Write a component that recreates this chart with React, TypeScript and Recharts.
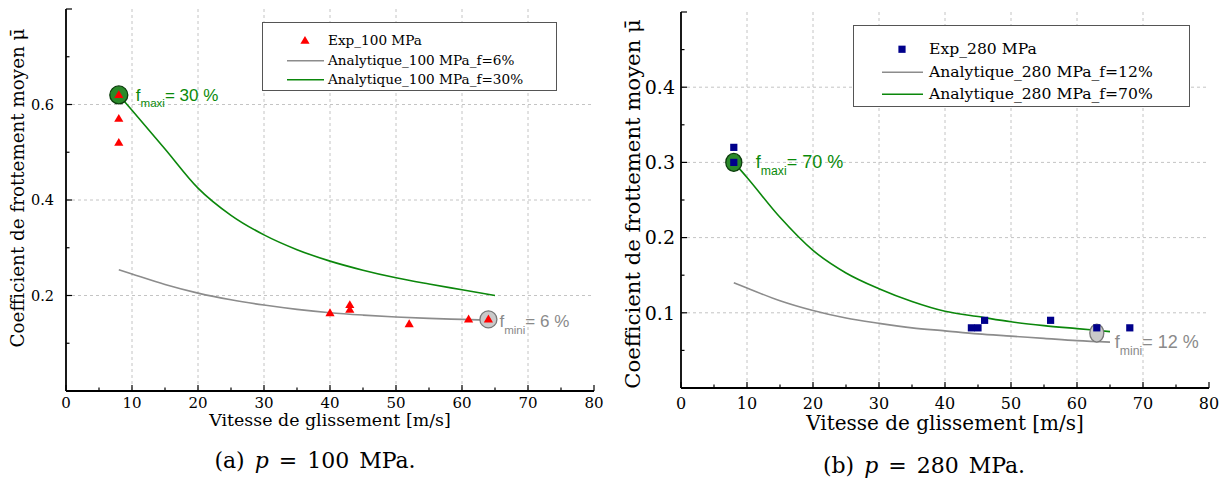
import React from "react";
import {
  ComposedChart,
  Line,
  Scatter,
  XAxis,
  YAxis,
  CartesianGrid,
  Legend,
} from "recharts";

const SERIF = '"DejaVu Serif", "Liberation Serif", "Noto Serif", "Times New Roman", Times, serif';
const SANS = '"Liberation Sans", Arial, Helvetica, sans-serif';

// ---------- shared x axis ----------
const xTicks = [0, 5, 10, 15, 20, 25, 30, 35, 40, 45, 50, 55, 60, 65, 70, 75, 80];
const xMajor = [0, 10, 20, 30, 40, 50, 60, 70, 80];
const xLabels = [0, 10, 20, 30, 40, 50, 60, 70, 80];
const xGrid = [10, 20, 30, 40, 50, 60, 70];
const curveSpeeds = [8, 10, 15, 20, 25, 30, 35, 40, 45, 50, 55, 60, 65];

// ---------- (a) p = 100 MPa ----------
const yTicksA = [0, 0.1, 0.2, 0.3, 0.4, 0.5, 0.6, 0.7, 0.8];
const yMajorA = [0, 0.2, 0.4, 0.6, 0.8];
const yLabelsA = [0.2, 0.4, 0.6];
const yGridA = [0.2, 0.4, 0.6];
const expSpeedA = [8, 8, 8, 40, 43, 43, 52, 61, 64];
const expMuA = [0.62, 0.57, 0.52, 0.163, 0.18, 0.17, 0.14, 0.15, 0.15];
const anaMuA6 = [0.254, 0.245, 0.223, 0.205, 0.191, 0.18, 0.171, 0.164, 0.159, 0.155, 0.152, 0.15, 0.148];
const anaMuA30 = [0.62, 0.588, 0.507, 0.425, 0.368, 0.327, 0.296, 0.272, 0.253, 0.237, 0.224, 0.212, 0.2];
const namesA = ["Exp_100 MPa", "Analytique_100 MPa_f=6%", "Analytique_100 MPa_f=30%"];
const maxiA = { x: 8, y: 0.62, text: "= 30 %" };
const miniA = { x: 64, y: 0.15, text: "= 6 %" };
const captionA = { tag: "(a)", pressure: "100" };

// ---------- (b) p = 280 MPa ----------
const yTicksB = [0, 0.05, 0.1, 0.15, 0.2, 0.25, 0.3, 0.35, 0.4, 0.45, 0.5];
const yMajorB = [0, 0.1, 0.2, 0.3, 0.4, 0.5];
const yLabelsB = [0.1, 0.2, 0.3, 0.4];
const yGridB = [0.1, 0.2, 0.3, 0.4];
const expSpeedB = [8, 8, 44, 45, 46, 56, 63, 68];
const expMuB = [0.32, 0.3, 0.08, 0.08, 0.09, 0.09, 0.08, 0.08];
const anaMuB12 = [0.14, 0.133, 0.116, 0.103, 0.093, 0.086, 0.08, 0.076, 0.072, 0.069, 0.066, 0.063, 0.061];
const anaMuB70 = [0.3, 0.28, 0.227, 0.183, 0.153, 0.132, 0.115, 0.102, 0.095, 0.088, 0.083, 0.079, 0.075];
const namesB = ["Exp_280 MPa", "Analytique_280 MPa_f=12%", "Analytique_280 MPa_f=70%"];
const maxiB = { x: 8, y: 0.3, text: "= 70 %" };
const miniB = { x: 63, y: 0.073, text: "= 12 %" };
const captionB = { tag: "(b)", pressure: "280" };

const xTitle = "Vitesse de glissement [m/s]";
const yTitle = "Coefficient de frottement moyen \u03bc\u0304";

const GREEN_TXT = "#0a8a0a";
const GRAY_TXT = "#8a8a8a";
const LINE_GRAY = "#8c8c8c";
const LINE_GREEN = "#0b870b";
const RED = "#ff0000";
const NAVY = "#00008b";

const pts = (xs: number[], ys: number[]) => xs.map((x, i) => ({ x, y: ys[i] }));
const has = (arr: number[], v: number) => arr.some((a) => Math.abs(a - v) < 1e-9);

// ---------- tick renderers (inward ticks) ----------
function xTick(side: "bottom" | "top", fontSize: number, labelDy: number) {
  return (props: any) => {
    const { x, y, payload } = props;
    const v = Number(payload.value);
    const len = has(xMajor, v) ? 6 : 3.5;
    const dir = side === "bottom" ? -1 : 1;
    return (
      <g>
        <line x1={x} y1={y} x2={x} y2={y + dir * len} stroke="#000" strokeWidth={1.2} />
        {side === "bottom" && has(xLabels, v) ? (
          <text x={x} y={y + labelDy} textAnchor="middle" fontFamily={SERIF} fontSize={fontSize} fill="#000">
            {v}
          </text>
        ) : null}
      </g>
    );
  };
}

function yTick(side: "left" | "right", majors: number[], labels: number[], fontSize: number, gap: number) {
  return (props: any) => {
    const { x, y, payload } = props;
    const v = Number(payload.value);
    const len = has(majors, v) ? 6 : 3.5;
    const dir = side === "left" ? 1 : -1;
    return (
      <g>
        <line x1={x} y1={y} x2={x + dir * len} y2={y} stroke="#000" strokeWidth={1.2} />
        {side === "left" && has(labels, v) ? (
          <text x={x - gap} y={y} dy={fontSize * 0.36} textAnchor="end" fontFamily={SERIF} fontSize={fontSize} fill="#000">
            {v}
          </text>
        ) : null}
      </g>
    );
  };
}

// ---------- marker shapes ----------
const Triangle = (props: any) => {
  const { cx, cy } = props;
  if (cx == null || cy == null) return <g />;
  return <polygon points={`${cx},${cy - 4.8} ${cx - 4.6},${cy + 3} ${cx + 4.6},${cy + 3}`} fill={RED} />;
};
const Square = (props: any) => {
  const { cx, cy } = props;
  if (cx == null || cy == null) return <g />;
  return <rect x={cx - 3.6} y={cy - 3.6} width={7.2} height={7.2} fill={NAVY} />;
};

type AnnOpts = {
  rx: number;
  ry: number;
  fill: string;
  stroke: string;
  color: string;
  sub: string;
  text: string;
  fs: number;
  dx: number;
  dy: number;
};
function annotation(o: AnnOpts) {
  return (props: any) => {
    const { cx, cy } = props;
    if (cx == null || cy == null) return <g />;
    const subFs = o.fs * 0.68;
    return (
      <g>
        <ellipse cx={cx} cy={cy} rx={o.rx} ry={o.ry} fill={o.fill} stroke={o.stroke} strokeWidth={1.3} />
        <text x={cx + o.dx} y={cy + o.dy} fill={o.color} fontFamily={SANS} fontSize={o.fs}>
          f
          <tspan fontSize={subFs} dy={o.fs * 0.38}>
            {o.sub}
          </tspan>
          <tspan dy={-o.fs * 0.38}>{o.text}</tspan>
        </text>
      </g>
    );
  };
}

// ---------- legend ----------
type LegendOpts = {
  names: string[];
  kinds: ("triangle" | "square" | "line")[];
  colors: string[];
  width: number;
  height: number;
  fontSize: number;
  rowH: number;
  padTop: number;
  markerW: number;
  markerC: number;
  lineFrom: number;
  lineTo: number;
};
function legendContent(o: LegendOpts) {
  return () => (
    <div
      style={{
        boxSizing: "border-box",
        width: o.width,
        height: o.height,
        border: "1px solid #555",
        background: "#fff",
        paddingTop: o.padTop,
        fontFamily: SERIF,
        fontSize: o.fontSize,
        whiteSpace: "nowrap",
        color: "#000",
      }}
    >
      {o.names.map((n, i) => (
        <div key={n} style={{ display: "flex", alignItems: "center", height: o.rowH }}>
          <svg width={o.markerW} height={o.rowH} style={{ flex: "none" }}>
            {o.kinds[i] === "line" ? (
              <line x1={o.lineFrom} x2={o.lineTo} y1={o.rowH / 2} y2={o.rowH / 2} stroke={o.colors[i]} strokeWidth={1.5} />
            ) : o.kinds[i] === "triangle" ? (
              <Triangle cx={o.markerC} cy={o.rowH / 2} />
            ) : (
              <Square cx={o.markerC} cy={o.rowH / 2} />
            )}
          </svg>
          <span style={{ lineHeight: `${o.rowH}px` }}>{n}</span>
        </div>
      ))}
    </div>
  );
}

// ---------- axis titles & caption ----------
function xTitleLabel(
  fs: number,
  dy: number,
  cap: { tag: string; pressure: string },
  capFs: number,
  capDx: number,
  capDy: number
) {
  return (props: any) => {
    const vb = props.viewBox || {};
    const cx = vb.x + vb.width / 2;
    return (
      <g>
        <text x={cx} y={vb.y + dy} textAnchor="middle" fontFamily={SERIF} fontSize={fs} fill="#000">
          {xTitle}
        </text>
        <text
          x={cx + capDx}
          y={vb.y + capDy}
          textAnchor="middle"
          fontFamily={SERIF}
          fontSize={capFs}
          wordSpacing={3}
          fill="#000"
        >
          {cap.tag + " "}
          <tspan fontStyle="italic">p</tspan>
          {" = " + cap.pressure + " MPa."}
        </text>
      </g>
    );
  };
}
function yTitleLabel(fs: number, cxAbs: number, cyShift: number) {
  return (props: any) => {
    const vb = props.viewBox || {};
    const cy = vb.y + vb.height / 2 + cyShift;
    return (
      <text
        x={cxAbs}
        y={cy}
        transform={`rotate(-90 ${cxAbs} ${cy})`}
        textAnchor="middle"
        dominantBaseline="central"
        fontFamily={SERIF}
        fontSize={fs}
        fill="#000"
      >
        {yTitle}
      </text>
    );
  };
}

type PanelProps = {
  left: number;
  width: number;
  margin: { top: number; right: number; bottom: number; left: number };
  yAxisW: number;
  yDomain: [number, number];
  yTicks: number[];
  yMajor: number[];
  yLabels: number[];
  yGrid: number[];
  exp: { x: number; y: number }[];
  low: { x: number; y: number }[];
  high: { x: number; y: number }[];
  names: string[];
  expShape: any;
  expKind: "triangle" | "square";
  maxi: { x: number; y: number; text: string };
  mini: { x: number; y: number; text: string };
  maxiShape: any;
  miniShape: any;
  xTickFs: number;
  xTickDy: number;
  yTickFs: number;
  yTickGap: number;
  xLabel: any;
  yLabel: any;
  legend: LegendOpts;
  legendPos: { left: number; top: number };
};

function Panel(p: PanelProps) {
  return (
    <div style={{ position: "absolute", left: p.left, top: 0 }}>
      <ComposedChart width={p.width} height={480} margin={p.margin}>
        <CartesianGrid
          verticalValues={xGrid}
          horizontalValues={p.yGrid}
          strokeDasharray="3 3"
          stroke="#c4c4c4"
          strokeWidth={1}
        />
        <XAxis
          dataKey="x"
          type="number"
          domain={[0, 80]}
          allowDataOverflow
          ticks={xTicks}
          interval={0}
          height={50}
          tickLine={false}
          tickSize={0}
          tickMargin={0}
          axisLine={{ stroke: "#000", strokeWidth: 1.8 }}
          tick={xTick("bottom", p.xTickFs, p.xTickDy)}
          label={p.xLabel}
        />
        <XAxis
          xAxisId="top"
          orientation="top"
          type="number"
          domain={[0, 80]}
          allowDataOverflow
          ticks={xTicks}
          interval={0}
          height={0}
          tickLine={false}
          tickSize={0}
          tickMargin={0}
          axisLine={{ stroke: "#000", strokeWidth: 1.8 }}
          tick={xTick("top", p.xTickFs, 0)}
        />
        <YAxis
          dataKey="y"
          type="number"
          domain={p.yDomain}
          allowDataOverflow
          ticks={p.yTicks}
          interval={0}
          width={p.yAxisW}
          tickLine={false}
          tickSize={0}
          tickMargin={0}
          axisLine={{ stroke: "#000", strokeWidth: 1.8 }}
          tick={yTick("left", p.yMajor, p.yLabels, p.yTickFs, p.yTickGap)}
          label={p.yLabel}
        />
        <YAxis
          yAxisId="right"
          orientation="right"
          type="number"
          domain={p.yDomain}
          allowDataOverflow
          ticks={p.yTicks}
          interval={0}
          width={0}
          tickLine={false}
          tickSize={0}
          tickMargin={0}
          axisLine={{ stroke: "#000", strokeWidth: 1.8 }}
          tick={yTick("right", p.yMajor, p.yLabels, p.yTickFs, 0)}
        />
        <Scatter data={[p.maxi]} dataKey="y" shape={p.maxiShape} legendType="none" isAnimationActive={false} />
        <Scatter data={[p.mini]} dataKey="y" shape={p.miniShape} legendType="none" isAnimationActive={false} />
        <Line
          data={p.low}
          dataKey="y"
          name={p.names[1]}
          type="monotone"
          stroke={LINE_GRAY}
          strokeWidth={1.6}
          dot={false}
          activeDot={false}
          isAnimationActive={false}
        />
        <Line
          data={p.high}
          dataKey="y"
          name={p.names[2]}
          type="monotone"
          stroke={LINE_GREEN}
          strokeWidth={1.6}
          dot={false}
          activeDot={false}
          isAnimationActive={false}
        />
        <Scatter
          data={p.exp}
          dataKey="y"
          name={p.names[0]}
          shape={p.expShape}
          fill={p.expKind === "triangle" ? RED : NAVY}
          isAnimationActive={false}
        />
        <Legend
          layout="horizontal"
          verticalAlign="middle"
          align="center"
          content={legendContent(p.legend)}
          wrapperStyle={{ left: p.legendPos.left, top: p.legendPos.top, width: "auto" }}
        />
      </ComposedChart>
    </div>
  );
}

export default function App() {
  return (
    <div
      style={{
        position: "absolute",
        left: 0,
        top: 0,
        width: 1227,
        height: 480,
        background: "#fff",
        overflow: "hidden",
      }}
    >
      <Panel
        left={0}
        width={610}
        margin={{ top: 9, right: 16, bottom: 39, left: 0 }}
        yAxisW={66}
        yDomain={[0, 0.8]}
        yTicks={yTicksA}
        yMajor={yMajorA}
        yLabels={yLabelsA}
        yGrid={yGridA}
        exp={pts(expSpeedA, expMuA)}
        low={pts(curveSpeeds, anaMuA6)}
        high={pts(curveSpeeds, anaMuA30)}
        names={namesA}
        expShape={Triangle}
        expKind="triangle"
        maxi={maxiA}
        mini={miniA}
        maxiShape={annotation({ rx: 9, ry: 9, fill: "#2a8a2a", stroke: "#0d3d0d", color: GREEN_TXT, sub: "maxi", text: maxiA.text, fs: 17, dx: 17, dy: 6 })}
        miniShape={annotation({ rx: 8.5, ry: 8.5, fill: "#c9c9c9", stroke: "#777", color: GRAY_TXT, sub: "mini", text: miniA.text, fs: 17, dx: 11, dy: 8 })}
        xTickFs={15}
        xTickDy={17}
        yTickFs={14.5}
        yTickGap={12}
        xLabel={xTitleLabel(17.4, 35, captionA, 22, -15, 77)}
        yLabel={yTitleLabel(18.3, 17.5, -12)}
        legend={{
          names: namesA,
          kinds: ["triangle", "line", "line"],
          colors: [RED, LINE_GRAY, LINE_GREEN],
          width: 295,
          height: 69,
          fontSize: 13.6,
          rowH: 19.5,
          padTop: 8,
          markerW: 65,
          markerC: 42,
          lineFrom: 24,
          lineTo: 61,
        }}
        legendPos={{ left: 262, top: 22 }}
      />
      <Panel
        left={615}
        width={612}
        margin={{ top: 12, right: 18, bottom: 42, left: 0 }}
        yAxisW={66}
        yDomain={[0, 0.5]}
        yTicks={yTicksB}
        yMajor={yMajorB}
        yLabels={yLabelsB}
        yGrid={yGridB}
        exp={pts(expSpeedB, expMuB)}
        low={pts(curveSpeeds, anaMuB12)}
        high={pts(curveSpeeds, anaMuB70)}
        names={namesB}
        expShape={Square}
        expKind="square"
        maxi={maxiB}
        mini={miniB}
        maxiShape={annotation({ rx: 8, ry: 9, fill: "#2a8a2a", stroke: "#0d3d0d", color: GREEN_TXT, sub: "maxi", text: maxiB.text, fs: 18, dx: 22, dy: 6 })}
        miniShape={annotation({ rx: 7, ry: 9, fill: "#c9c9c9", stroke: "#777", color: GRAY_TXT, sub: "mini", text: miniB.text, fs: 18, dx: 18, dy: 15 })}
        xTickFs={16}
        xTickDy={21}
        yTickFs={19}
        yTickGap={6}
        xLabel={xTitleLabel(20, 42, captionB, 22, -21, 85)}
        yLabel={yTitleLabel(21.2, 17, 4)}
        legend={{
          names: namesB,
          kinds: ["square", "line", "line"],
          colors: [NAVY, LINE_GRAY, LINE_GREEN],
          width: 337,
          height: 82,
          fontSize: 15.6,
          rowH: 22.5,
          padTop: 12,
          markerW: 75,
          markerC: 48,
          lineFrom: 28,
          lineTo: 69,
        }}
        legendPos={{ left: 238, top: 25 }}
      />
    </div>
  );
}
